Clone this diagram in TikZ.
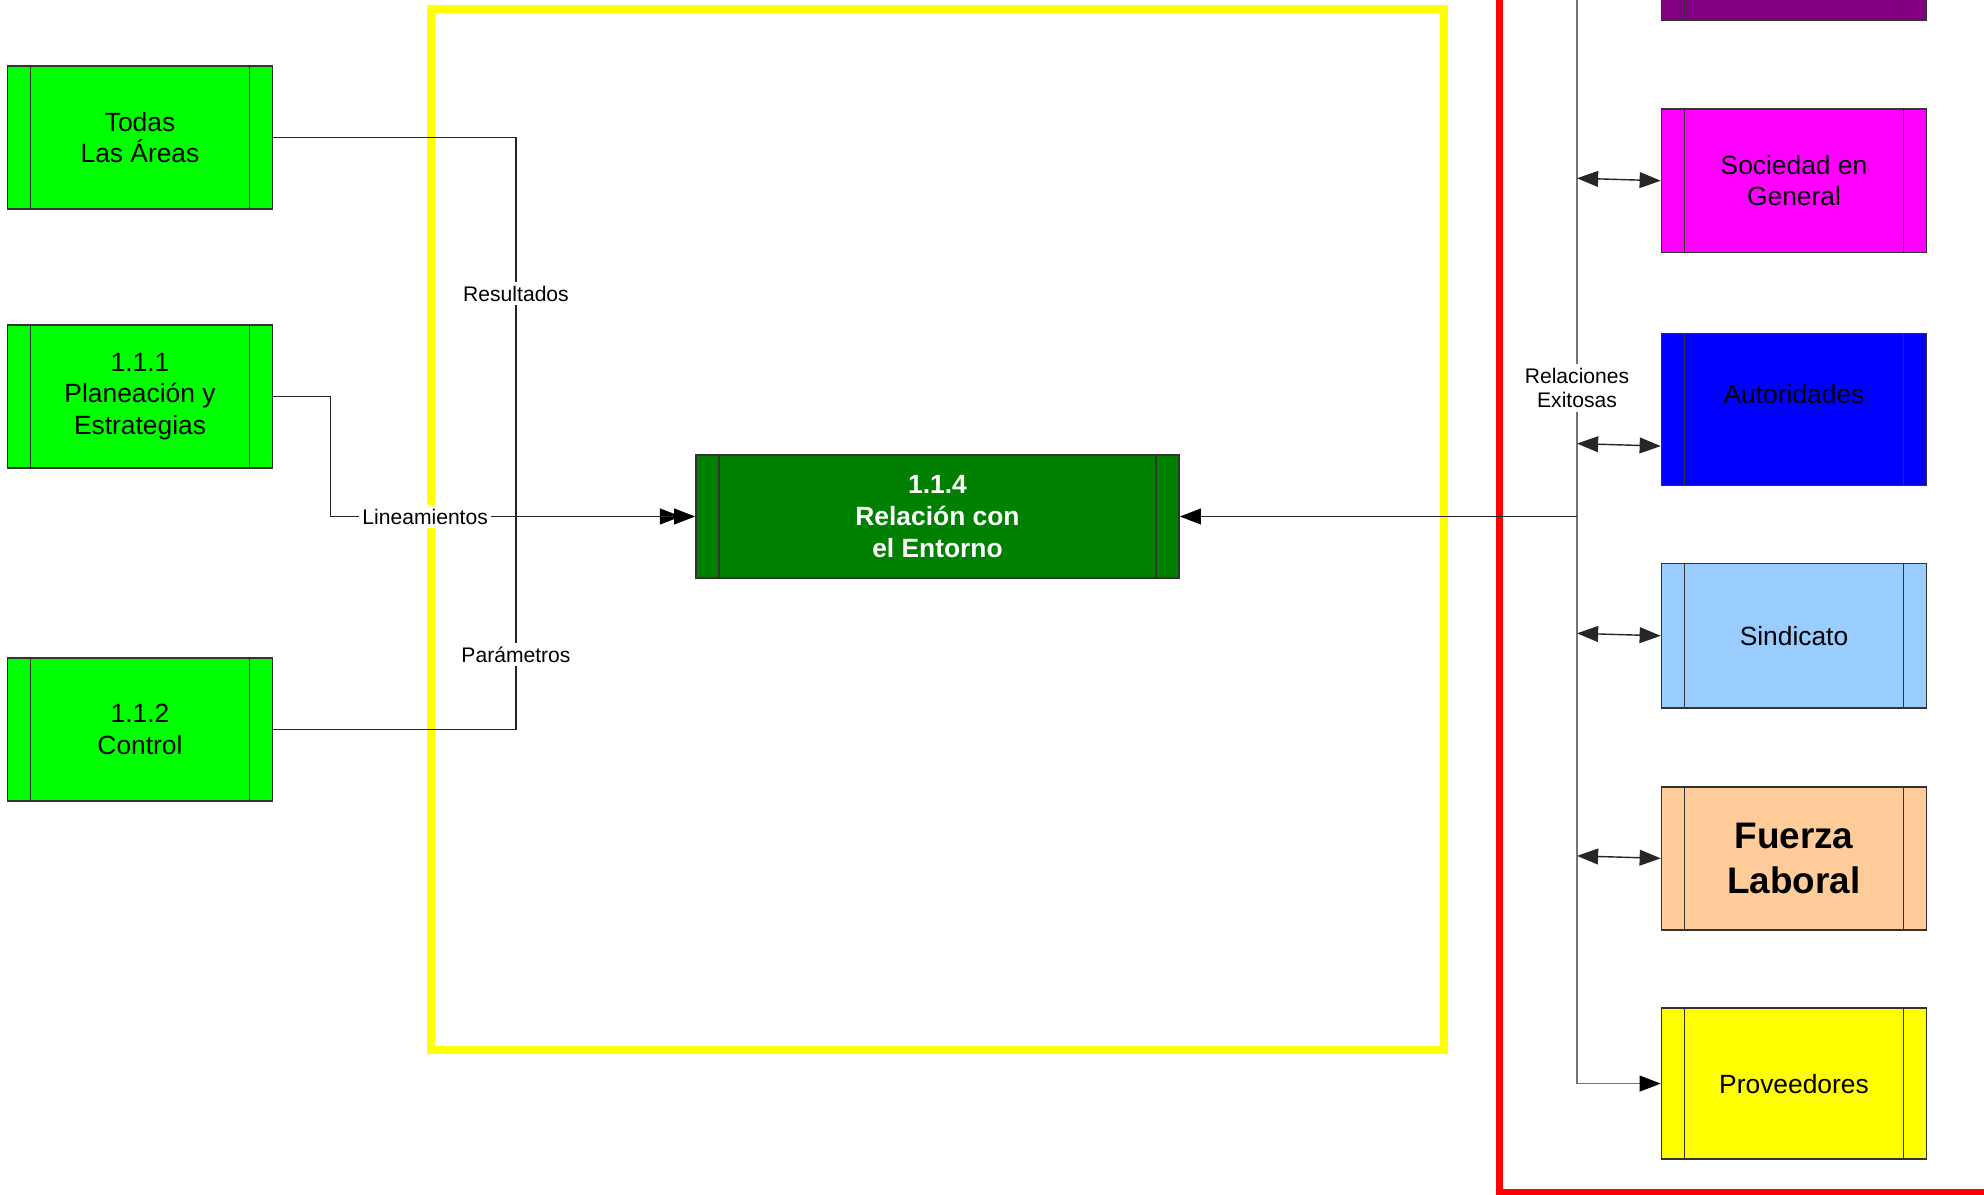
\documentclass[tikz,border=0pt]{standalone}
\usepackage{fontspec}
\setmainfont{Liberation Sans}
\usepackage{xcolor}
\usetikzlibrary{arrows.meta, positioning, calc}
\definecolor{verde}{HTML}{00FF00}
\definecolor{verdeosc}{HTML}{008000}
\definecolor{morado}{HTML}{800080}
\definecolor{rosa}{HTML}{FF00FF}
\definecolor{azul}{HTML}{0000FF}
\definecolor{celeste}{HTML}{99CCFF}
\definecolor{durazno}{HTML}{FFCC99}
\definecolor{amarillo}{HTML}{FFFF00}
\definecolor{rojo}{HTML}{FF0000}

\begin{document}
\begin{tikzpicture}[x=0.01cm, y=-0.01cm, font=\fontsize{7.5}{9}\selectfont,
  proc/.style={draw=black!80, line width=0.4pt, align=center, minimum width=2.65cm, minimum height=1.43cm, inner sep=2pt,
    path picture={\draw[black!80, line width=0.4pt]
      ([xshift=2.3mm]path picture bounding box.north west) -- ([xshift=2.3mm]path picture bounding box.south west)
      ([xshift=-2.3mm]path picture bounding box.north east) -- ([xshift=-2.3mm]path picture bounding box.south east);}},
  lbl/.style={fill=white, text=black, font=\fontsize{6}{7}\selectfont, inner sep=1pt, align=center},
  wire/.style={line width=0.4pt, black!85},
  fl/.style={wire, -{Triangle[length=6pt, width=4.5pt, color=black]}},
  dfl/.style={wire, {Triangle[length=6pt, width=4.5pt]}-{Triangle[length=6pt, width=4.5pt]}}]
  \useasboundingbox (0,0) rectangle (1984,1195);
  % marcos
  \draw[amarillo, line width=0.08cm] (431,9) rectangle (1444,1050);
  \draw[rojo, line width=0.065cm] (1499.5,-100) rectangle (2100,1192);
  % areas de entrada
  \node[proc, fill=verde] (todas) at (140,137.5) {Todas\\Las Áreas};
  \node[proc, fill=verde] (plan) at (140,396.5) {1.1.1\\Planeación y\\Estrategias};
  \node[proc, fill=verde] (control) at (140,729.5) {1.1.2\\Control};
  \node[proc, fill=verdeosc, text=white, font=\bfseries\fontsize{7.5}{9}\selectfont, minimum width=4.83cm, minimum height=1.23cm] (entorno) at (937.5,516.5) {1.1.4\\Relación con\\el Entorno};
  % entorno externo
  \node[proc, fill=morado, minimum height=1.43cm] (morado) at (1794,-51.5) {};
  \node[proc, fill=rosa, below=0.877cm of morado] (sociedad) {Sociedad en\\General};
  \node[proc, fill=azul, minimum height=1.52cm, below=0.798cm of sociedad] (autoridades) {Autoridades\\~};
  \node[proc, fill=celeste, minimum height=1.44cm, below=0.767cm of autoridades] (sindicato) {Sindicato};
  \node[proc, fill=durazno, font=\bfseries\fontsize{10.5}{12.6}\selectfont, below=0.775cm of sindicato] (fuerza) {Fuerza\\Laboral};
  \node[proc, fill=amarillo, minimum height=1.51cm, below=0.767cm of fuerza] (proveedores) {Proveedores};
  \coordinate (bL) at (516,516.5);
  \coordinate (bR) at (1577,516.5);
  \coordinate (bTop) at (1577,-5);
  % flujos
  \draw[wire] (todas.east) -| node[lbl, pos=0.706] {Resultados} (bL);
  \draw[wire] (bL) |- node[lbl, pos=0.324] {Parámetros} (control.east);
  \draw[fl, shorten >=4pt] (bL) -- (entorno.west);
  \draw[fl] (plan.east) -- ++(57,0) |- node[lbl, pos=0.63] {Lineamientos} (entorno.west);
  \draw[fl, black!55] (bTop) |- node[lbl, pos=0.1805] {Relaciones\\Exitosas} (proveedores.west);
  \draw[fl] (bR) -- (entorno.east);
  \foreach \n in {sociedad, sindicato, fuerza} \draw[dfl] ([yshift=0.7pt]\n.west -| bR) -- (\n.west);
  \draw[dfl] ([yshift=-3.4mm]autoridades.west -| bR) -- ([yshift=-3.65mm]autoridades.west);
\end{tikzpicture}
\end{document}
